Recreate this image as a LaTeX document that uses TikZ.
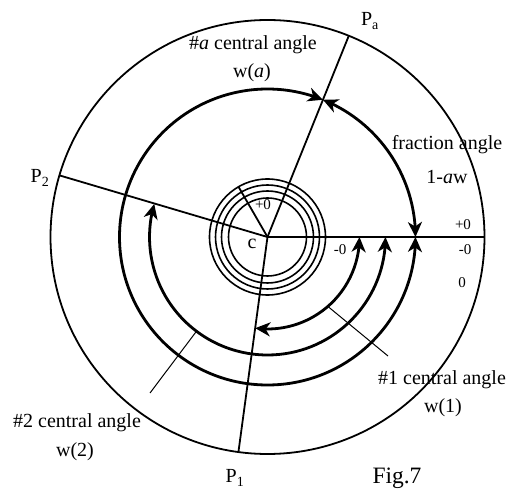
\documentclass[tikz,border=0pt]{standalone}
\usepackage{fontspec}
\setmainfont{Liberation Serif}
\usetikzlibrary{arrows.meta, bending}

\begin{document}
\begin{tikzpicture}[x=1pt, y=1pt,
    rim/.style={line width=1.8pt},
    ring/.style={line width=1.6pt},
    ray/.style={line width=1.8pt},
    sweep/.style={line width=2.8pt,
                  {Stealth[length=15pt,width=14pt,inset=4.5pt]}-{Stealth[length=15pt,width=14pt,inset=4.5pt]}},
    ptr/.style={line width=1pt},
    lbl/.style={font=\fontsize{20}{22}\selectfont, inner sep=0pt},
    tag/.style={font=\fontsize{15}{16}\selectfont, inner sep=0pt},
]
\useasboundingbox (0,0) rectangle (512,488);

% === CENTRE AND CIRCLES ===
\coordinate (c) at (267.5,251);
\draw[rim] (c) circle[radius=217];
\foreach \r in {58,52,46,39}
  \draw[ring] (c) circle[radius=\r];

% === RAYS: P_a, P_2, P_1, zero line ===
\coordinate (pa) at ([shift={(68:217)}]c);
\coordinate (p2) at ([shift={(163.5:217)}]c);
\coordinate (p1) at ([shift={(262.3:217)}]c);
\coordinate (p0) at ([shift={(0:217)}]c);
\coordinate (pz) at ([shift={(120:58)}]c);
\draw[ray] (c) -- (pa);
\draw[ray] (c) -- (p2);
\draw[ray] (c) -- (p1);
\draw[ray] (c) -- (p0);
\draw[ray] (c) -- (pz);

% === SWEEP ARCS ===
\draw[sweep] ([shift={(0:92)}]c) arc[start angle=0, end angle=-97.7, radius=92];
\draw[sweep] ([shift={(0:118)}]c) arc[start angle=0, end angle=-196.3, radius=118];
\draw[sweep] ([shift={(0:148)}]c) arc[start angle=0, end angle=-292, radius=148];
\draw[sweep] ([shift={(68:148)}]c) arc[start angle=68, end angle=0, radius=148];

% === LABELS ===
\node[lbl] (pal) at (370,467) {P\textsubscript{a}};
\node[lbl] (p2l) at (40,310) {P\textsubscript{2}};
\node[lbl] (p1l) at (235,10) {P\textsubscript{1}};
\node[lbl] (cl) at (252,244) {c};
\node[tag] (zin) at (263,283) {+0};

\node[lbl] (wa) at (253,443) {\#\textit{a} central angle};
\node[lbl] (wav) at (252,415) {w(\textit{a})};
\node[lbl] (fr) at (447,343) {fraction angle};
\node[lbl] (frv) at (447,311) {1-\textit{a}w};

\node[tag] (zp) at (463,263) {+0};
\node[tag] (zm) at (465,238) {-0};
\node[tag] (zz) at (462,205) {0};
\node[tag] (zmi) at (340,238) {-0};

\node[lbl] (w1) at (442,108) {\#1 central angle};
\node[lbl] (w1v) at (443,80) {w(1)};
\node[lbl] (w2) at (77,65) {\#2 central angle};
\node[lbl] (w2v) at (75,36) {w(2)};
\node[font=\fontsize{23.5}{25}\selectfont, inner sep=0pt] (fig) at (397,10) {Fig.7};

% pointers to the arcs
\coordinate (a1) at ([shift={(-49:92)}]c);
\coordinate (a1e) at (388,132);
\coordinate (a2) at ([shift={(233:118)}]c);
\coordinate (a2e) at (150,95);
\draw[ptr] (a1) -- (a1e);
\draw[ptr] (a2) -- (a2e);

\end{tikzpicture}
\end{document}
